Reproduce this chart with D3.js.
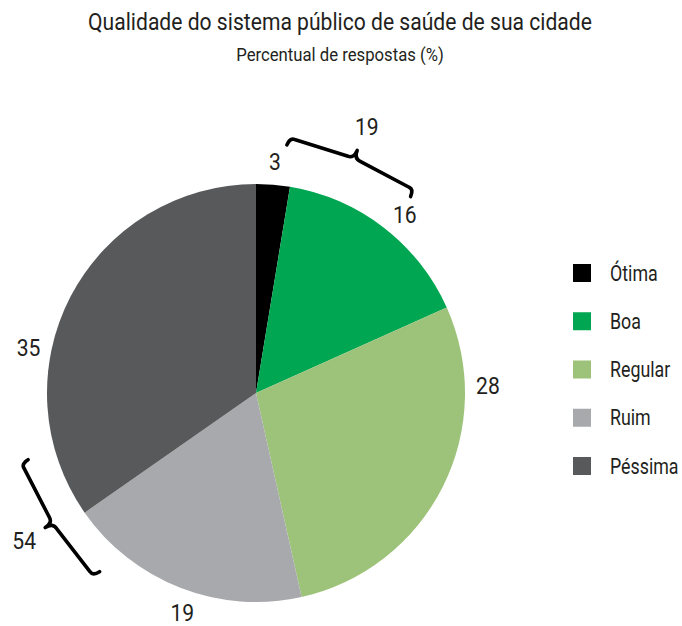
<!DOCTYPE html>
<html><head><meta charset="utf-8">
<script src="https://cdn.jsdelivr.net/npm/d3@7/dist/d3.min.js"></script>
<style>
html,body{margin:0;padding:0;background:#fff;}
text{font-family:"Roboto","Liberation Sans",sans-serif;fill:#231f20;}
</style></head>
<body>
<svg id="chart" width="682" height="626"></svg>
<script>
// ---- data ----
const categories = ["Ótima", "Boa", "Regular", "Ruim", "Péssima"];
const values = [2.6, 15.7, 28.2, 18.8, 34.7];
const colors = ["#000000", "#00a651", "#9dc37a", "#a7a9ac", "#58595b"];
const groups = [
  { members: ["Ótima", "Boa"] },
  { members: ["Ruim", "Péssima"] }
];
const title = "Qualidade do sistema público de saúde de sua cidade";
const subtitle = "Percentual de respostas (%)";

// ---- layout ----
const cx = 256, cy = 393, R = 209, labelR = 232;
const labelFrac = [0.5, 0.54, 0.22, 0.46, 0.37];
const braceGeom = [
  { a0: 7.1, a1: 38.2, r: 250 },
  { a0: 221.2, a1: 253.7, r: 237.5 }
];

const svg = d3.select("#chart");
const rounded = values.map(v => Math.round(v));

// measure natural title width to derive a horizontal condensation factor
const probe = svg.append("text").attr("font-size", 24).text(title);
const K = 504 / probe.node().getComputedTextLength();
probe.remove();

// adds a text placed at (x,y), horizontally condensed by K*f
function ctext(parent, x, y, str, size, anchor, f) {
  return parent.append("g").attr("transform", `translate(${x},${y}) scale(${K * (f || 1)},1)`)
    .append("text").attr("font-size", size).attr("text-anchor", anchor || "middle")
    .attr("dominant-baseline", "central").text(str);
}

ctext(svg, 340, 22.5, title, 24);
ctext(svg, 340, 54, subtitle, 19);

const pie = d3.pie().sort(null).value(d => d.v);
const arcs = pie(categories.map((c, i) => ({ c, v: values[i], i })));
const arc = d3.arc().innerRadius(0).outerRadius(R);

const g = svg.append("g").attr("transform", `translate(${cx},${cy})`);
g.selectAll("path.slice").data(arcs).enter().append("path")
  .attr("class", "slice").attr("d", arc).attr("fill", d => colors[d.data.i]);

function polar(angDeg, r) {
  const a = angDeg * Math.PI / 180;
  return [r * Math.sin(a), -r * Math.cos(a)];
}

arcs.forEach(d => {
  const f = labelFrac[d.data.i];
  const a = (d.startAngle + (d.endAngle - d.startAngle) * f) * 180 / Math.PI;
  const p = polar(a, labelR);
  ctext(g, p[0], p[1], rounded[d.data.i], 24);
});

// braces
function bracePath(A, B) {
  const dx = B[0] - A[0], dy = B[1] - A[1];
  const L = Math.hypot(dx, dy);
  const ux = dx / L, uy = dy / L;
  const nx = uy, ny = -ux;
  const P = (s, t) => [A[0] + ux * s + nx * t, A[1] + uy * s + ny * t];
  const h1 = 8, h2 = 13, tip = 22, r = 5, s = 7;
  const m = L / 2;
  const pts = (arr) => arr.map(p => P(p[0], p[1]).join(",")).join(" ");
  return "M" + pts([[0, 0]]) +
    " Q" + pts([[0, h1], [r, h1]]) +
    " L" + pts([[m - s, h2]]) +
    " Q" + pts([[m, h2], [m, tip]]) +
    " M" + pts([[L, 0]]) +
    " Q" + pts([[L, h1], [L - r, h1]]) +
    " L" + pts([[m + s, h2]]) +
    " Q" + pts([[m, h2], [m, tip]]);
}

groups.forEach((grp, gi) => {
  const geo = braceGeom[gi];
  const A = polar(geo.a0, geo.r), B = polar(geo.a1, geo.r);
  g.append("path").attr("d", bracePath(A, B))
    .attr("fill", "none").attr("stroke", "#000").attr("stroke-width", 3.6)
    .attr("stroke-linecap", "round").attr("stroke-linejoin", "round");
  const dx = B[0] - A[0], dy = B[1] - A[1], L = Math.hypot(dx, dy);
  const mx = (A[0] + B[0]) / 2, my = (A[1] + B[1]) / 2;
  const nx = dy / L, ny = -dx / L;
  const total = grp.members.reduce((s, m) => s + rounded[categories.indexOf(m)], 0);
  ctext(g, mx + nx * 47, my + ny * 47, total, 24);
});

// legend
const legendY = d3.scalePoint().domain(categories).range([273, 466]);
const items = svg.append("g").selectAll("g").data(categories).enter().append("g")
  .attr("transform", d => `translate(573,${legendY(d)})`);
items.append("rect").attr("x", 0).attr("y", -9).attr("width", 18).attr("height", 18)
  .attr("fill", (d, i) => colors[i]);
items.each(function (d) { ctext(d3.select(this), 37, 0, d, 22, "start", 0.92); });
</script>
</body></html>
